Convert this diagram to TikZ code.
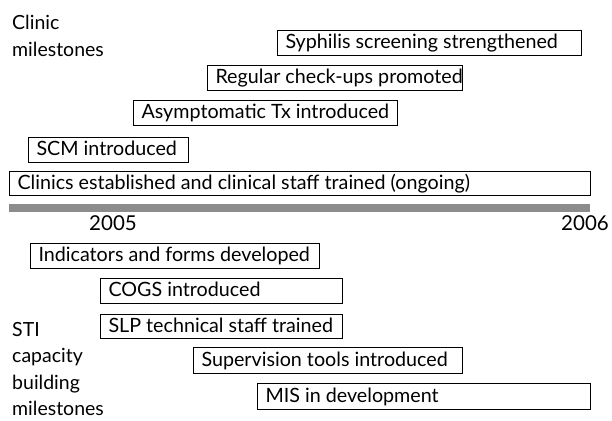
\documentclass[tikz,border=0pt]{standalone}
\usepackage{fontspec}
\setmainfont{Lato}
\usetikzlibrary{positioning}

\tikzset{
  mbox/.style={draw, line width=1pt, anchor=north west, inner xsep=8pt, inner ysep=0pt,
    minimum height=25pt, text height=15pt, text depth=4pt,
    font=\fontsize{19.7}{24}\selectfont},
  grouplabel/.style={anchor=base west, inner sep=0pt, align=left,
    font=\fontsize{19.5}{26.3}\selectfont},
  yearlab/.style={anchor=base, inner sep=0pt, font=\fontsize{20.5}{24}\selectfont},
}
% box from (x1,y1) to (x2,y2) in pixels, text set left
\newcommand{\mstone}[6]{%
  \pgfmathsetmacro{\bw}{#4-#2-16}%
  \node[mbox, minimum height=#5-#3] (#1) at (#2,#3) {\makebox[\bw pt][l]{#6}};}

\begin{document}
\begin{tikzpicture}[x=1pt, y=-1pt]
  \useasboundingbox (0,0) rectangle (612,420);
  % group labels (anchored at the baseline of the last line)
  \node[grouplabel] (clinlab) at (12,56.3) {Clinic\\milestones};
  \node[grouplabel] (stilab) at (12,415.5) {STI\\capacity\\building\\milestones};
  % clinic milestones
  \mstone{syph}{277}{30}{581}{55}{Syphilis screening strengthened}
  \mstone{regular}{207}{65}{462}{90}{Regular check-ups promoted}
  \mstone{asym}{133}{100}{397}{125}{Asymptomatic Tx introduced}
  \mstone{scm}{28}{137}{188}{162}{SCM introduced}
  \mstone{clinics}{9}{171}{590}{195}{Clinics established and clinical staff trained (ongoing)}
  % time line
  \fill[gray!90] (9,204) rectangle (590,212);
  \node[yearlab] (y2005) at (113,230) {2005};
  \node[yearlab] (y2006) at (585,230) {2006};
  % capacity building milestones
  \mstone{indic}{30}{243}{319}{268}{Indicators and forms developed}
  \mstone{cogs}{100}{278}{342}{303}{COGS introduced}
  \mstone{slp}{100}{314}{342}{338}{SLP technical staff trained}
  \mstone{superv}{193}{347}{462}{373}{Supervision tools introduced}
  \mstone{mis}{257}{383}{590}{409}{MIS in development}
\end{tikzpicture}
\end{document}
